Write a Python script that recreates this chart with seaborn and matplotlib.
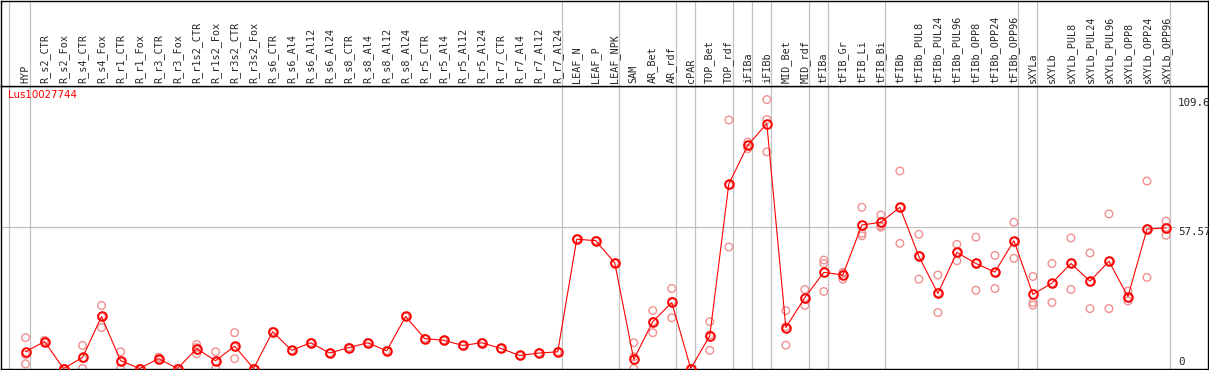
import pandas as pd
import seaborn as sns
import matplotlib.pyplot as plt
from matplotlib.transforms import blended_transform_factory

# categories (sample names) along the x axis
samples = ['HYP', 'R_s2_CTR', 'R_s2_Fox', 'R_s4_CTR', 'R_s4_Fox', 'R_r1_CTR', 'R_r1_Fox',
           'R_r3_CTR', 'R_r3_Fox', 'R_r1s2_CTR', 'R_r1s2_Fox', 'R_r3s2_CTR', 'R_r3s2_Fox',
           'R_s6_CTR', 'R_s6_Al4', 'R_s6_Al12', 'R_s6_Al24', 'R_s8_CTR', 'R_s8_Al4',
           'R_s8_Al12', 'R_s8_Al24', 'R_r5_CTR', 'R_r5_Al4', 'R_r5_Al12', 'R_r5_Al24',
           'R_r7_CTR', 'R_r7_Al4', 'R_r7_Al12', 'R_r7_Al24', 'LEAF_N', 'LEAF_P', 'LEAF_NPK',
           'SAM', 'AR_Bet', 'AR_rdf', 'cPAR', 'TOP_Bet', 'TOP_rdf', 'iFIBa', 'iFIBb',
           'MID_Bet', 'MID_rdf', 'tFIBa', 'tFIB_Gr', 'tFIB_Li', 'tFIB_Bi', 'tFIBb',
           'tFIBb_PUL8', 'tFIBb_PUL24', 'tFIBb_PUL96', 'tFIBb_OPP8', 'tFIBb_OPP24',
           'tFIBb_OPP96', 'sXYLa', 'sXYLb', 'sXYLb_PUL8', 'sXYLb_PUL24', 'sXYLb_PUL96',
           'sXYLb_OPP8', 'sXYLb_OPP24', 'sXYLb_OPP96']

# mean expression
mean_vals = [6.8, 11.0, 0, 4.5, 21.2, 3.2, 0, 4.0, 0, 8.1, 3.2, 9.1, 0,
             15.0, 7.4, 10.5, 6.3, 8.5, 10.5, 7.2, 21.2, 12.2, 11.5, 9.4, 10.5,
             8.2, 5.3, 6.3, 6.8, 52.7, 52.1, 43.0, 3.7, 19.1, 26.9, 0, 13.4, 75.2,
             91.0, 99.8, 16.7, 28.9, 39.2, 38.1, 58.5, 59.6, 65.7, 45.7, 30.6, 47.3,
             42.8, 39.3, 52.1, 30.2, 34.8, 42.8, 35.6, 43.7, 29.3, 56.8, 57.3]

# replicates
rep1 = [12.6, 11.5, 0, 9.4, 25.7, 6.8, 0, 4.6, 0, 9.8, 6.8, 14.6, 0,
        15.0, 7.4, 10.5, 6.3, 8.5, 10.5, 7.2, 21.2, 12.2, 11.5, 9.4, 10.5,
        8.2, 5.3, 6.3, 6.8, 52.7, 52.1, 43.0, 10.5, 23.6, 32.6, 0, 19.1, 101.3,
        92.3, 109.6, 23.6, 32.2, 44.2, 39.2, 65.7, 62.6, 80.5, 54.7, 38.1, 50.6,
        53.5, 46.1, 59.6, 37.5, 42.8, 53.2, 47.1, 63.0, 31.6, 76.4, 60.1]
rep2 = [5.7, 10.6, 0, 0, 16.7, 0, 0, 3.4, 0, 6.0, 0, 4.0, 0,
        15.0, 7.4, 10.5, 6.3, 8.5, 10.5, 7.2, 21.2, 12.2, 11.5, 9.4, 10.5,
        8.2, 5.3, 6.3, 6.8, 52.7, 52.1, 43.0, 4.8, 14.6, 20.7, 0, 7.4, 49.5,
        89.6, 88.3, 9.5, 25.7, 42.8, 36.4, 55.1, 58.2, 51.0, 36.4, 22.8, 43.9,
        31.9, 32.6, 44.9, 26.9, 26.9, 32.2, 24.4, 24.4, 27.5, 37.1, 54.3]
rep3 = [1.9, 11.0, 0, 4.1, 21.2, 2.8, 0, 4.0, 0, 8.5, 2.8, 8.7, 0,
        15.0, 7.4, 10.5, 6.3, 8.5, 10.5, 7.2, 21.2, 12.2, 11.5, 9.4, 10.5,
        8.2, 5.3, 6.3, 6.8, 52.7, 52.1, 43.0, 0, 19.1, 27.4, 0, 13.7, 74.8,
        91.1, 101.5, 17.0, 28.8, 31.4, 38.7, 54.1, 57.6, 65.6, 46.0, 30.9, 47.4,
        43.0, 39.2, 51.8, 25.8, 34.7, 43.0, 35.3, 43.7, 28.8, 56.9, 57.5]

gene = 'Lus10027744'
y_top = 115.14
y_mid = 57.57
y_max_label = '109.6'

# sample groups end after these indices (gray separators)
group_ends = [0, 28, 31, 34, 35, 37, 38, 39, 41, 42, 45, 52, 53, 60]

n = len(samples)
pos = list(range(n))
df = pd.DataFrame({'pos': pos, 'mean': mean_vals})
reps = pd.DataFrame({'pos': pos * 3, 'value': rep1 + rep2 + rep3})

sns.set_style('white')
W, H = 1209, 370
fig = plt.figure(figsize=(W / 100, H / 100), dpi=100)
xlo, xhi = (1 - 26) / 19, (1208 - 26) / 19

ax = fig.add_axes([0.5 / W, 1.5 / H, 1207.5 / W, 282.5 / H])
hd = fig.add_axes([0.5 / W, 284 / H, 1207.5 / W, 85.5 / H])

seps = [-0.85] + [g + 0.22 for g in group_ends]
for a in (ax, hd):
    a.set_xlim(xlo, xhi)
    for s in seps:
        a.axvline(s, color='#c0c0c0', lw=0.9, zorder=0)
    for sp in a.spines.values():
        sp.set_color('black')
        sp.set_linewidth(1.0)
    a.set_xticks([])
    a.set_yticks([])

ax.set_ylim(0, y_top)
ax.hlines(y_mid, xlo, 60.55, color='#c0c0c0', lw=0.9, zorder=0)

sns.scatterplot(data=reps, x='pos', y='value', ax=ax, marker='o', s=30,
                facecolor='none', edgecolor='#f09090', linewidth=1.0, zorder=2)
sns.lineplot(data=df, x='pos', y='mean', ax=ax, color='red', lw=0.8,
             marker='o', markersize=6.2, markerfacecolor='none',
             markeredgecolor='red', markeredgewidth=1.4, zorder=3)
ax.set_xlabel('')
ax.set_ylabel('')

ax.text(-0.92, 111.5, gene, color='red', fontsize=7.4, family='DejaVu Sans',
        ha='left', va='center')

tx = (1178 - 26) / 19
ax.text(tx, 110.3, y_max_label, fontsize=7.8, family='DejaVu Sans Mono', va='top', ha='left')
ax.text(tx, y_mid, f'{y_mid:.2f}', fontsize=7.8, family='DejaVu Sans Mono', va='top', ha='left')
ax.text(tx, 0.6, '0', fontsize=7.8, family='DejaVu Sans Mono', va='bottom', ha='left')

trans = blended_transform_factory(hd.transData, hd.transAxes)
for i, name in enumerate(samples):
    hd.text(i, 0.03, name, rotation=90, fontsize=7.3, family='DejaVu Sans Mono',
            ha='center', va='bottom', transform=trans)

fig.savefig('out.png', dpi=100)
